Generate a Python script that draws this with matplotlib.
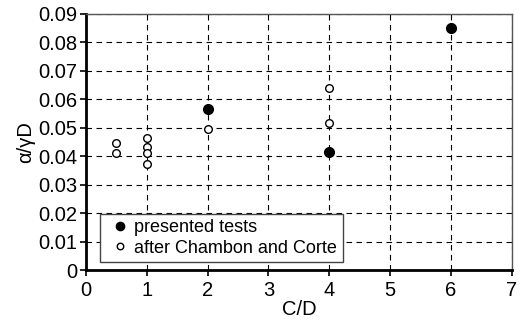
import matplotlib.pyplot as plt

plt.rcParams["font.family"] = ["Liberation Sans", "DejaVu Sans"]

# presented tests
pres_x = [2, 4, 6]
pres_y = [0.0566, 0.0415, 0.0851]

# after Chambon and Corte
cc_x = [0.5, 0.5, 1, 1, 1, 1, 2, 4, 4]
cc_y = [0.0447, 0.0411, 0.0464, 0.0432, 0.0410, 0.0372, 0.0497, 0.0640, 0.0517]

fig = plt.figure(figsize=(5.23, 3.22), dpi=100)
ax = fig.add_axes([0.164, 0.161, 0.815, 0.796])

ax.plot(cc_x, cc_y, "o", ms=5.5, mfc="white", mec="black", mew=1.0,
        label="after Chambon and Corte", zorder=3)
ax.plot(pres_x, pres_y, "o", ms=7, color="black",
        label="presented tests", zorder=4)

ax.set_xlim(0, 7)
ax.set_ylim(0, 0.09)
ax.set_xticks(range(8))
ax.set_yticks([i / 100 for i in range(10)])
ax.set_yticklabels(["0"] + ["%.2f" % (i / 100) for i in range(1, 10)])
ax.grid(True, color="black", linestyle=(0, (5, 4)), linewidth=0.8)
ax.set_axisbelow(True)

ax.tick_params(labelsize=14.5, direction="out", length=4, width=1.2, pad=2)
ax.tick_params(axis="x", pad=4)
for s in ["left", "bottom"]:
    ax.spines[s].set_linewidth(2)
for s in ["top", "right"]:
    ax.spines[s].set_linewidth(1)
    ax.spines[s].set_color("#555555")

ax.set_xlabel("C/D", fontsize=14.5, labelpad=0)
ax.set_ylabel("α/γD", fontsize=14.5, labelpad=2)

h, l = ax.get_legend_handles_labels()
leg = ax.legend(h[::-1], l[::-1], loc="lower left",
                bbox_to_anchor=(0.033, 0.031, 0.57, 0.215), mode="expand",
                fontsize=13, fancybox=False, framealpha=1, edgecolor="#444444",
                handletextpad=0.0, handlelength=1.6, borderpad=0.3,
                labelspacing=0.2, borderaxespad=0, markerscale=0.85)
leg.get_frame().set_linewidth(1)

fig.savefig("out.png", dpi=100)
